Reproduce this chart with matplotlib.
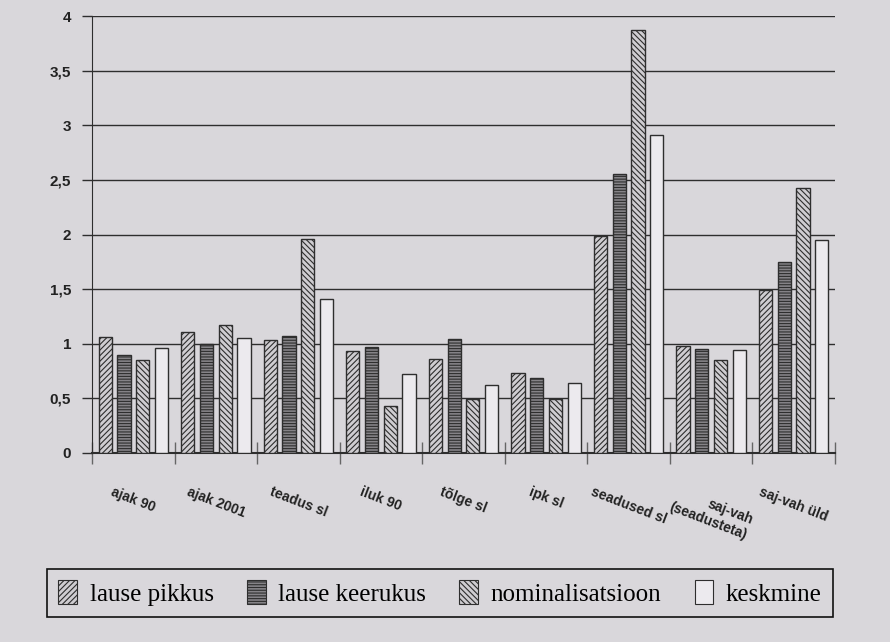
import numpy as np
import matplotlib
matplotlib.use("Agg")
import matplotlib.pyplot as plt
from matplotlib.patches import Patch

# andmed
kategooriad = ["ajak 90", "ajak 2001", "teadus sl", "iluk 90", "tõlge sl",
               "ipk sl", "seadused sl", "saj-vah\n(seadusteta)", "saj-vah üld"]
lause_pikkus = [1.06, 1.11, 1.03, 0.93, 0.86, 0.73, 1.99, 0.98, 1.49]
lause_keerukus = [0.90, 1.00, 1.07, 0.97, 1.04, 0.69, 2.55, 0.95, 1.75]
nominalisatsioon = [0.85, 1.17, 1.96, 0.43, 0.49, 0.49, 3.87, 0.85, 2.43]
keskmine = [0.96, 1.05, 1.41, 0.72, 0.62, 0.64, 2.91, 0.94, 1.95]
seeriad = ["lause pikkus", "lause keerukus", "nominalisatsioon", "keskmine"]
y_sildid = ["0", "0,5", "1", "1,5", "2", "2,5", "3", "3,5", "4"]

taust = "#d9d7db"
joon = "#2e2e2e"
plt.rcParams["hatch.linewidth"] = 0.8

stiilid = [
    dict(facecolor="#cfcdd1", hatch="//////"),
    dict(facecolor="#858387", hatch="------"),
    dict(facecolor="#cfcdd1", hatch="\\\\\\\\\\\\"),
    dict(facecolor="#eceaee", hatch=None),
]

fig = plt.figure(figsize=(8.9, 6.42), dpi=100, facecolor=taust)
ax = fig.add_axes([92 / 890, 1 - 453 / 642, (835 - 92) / 890, (453 - 16) / 642])
ax.set_facecolor(taust)

x = np.arange(len(kategooriad))
laius = 0.16
samm = 0.227
for i, vaartused in enumerate([lause_pikkus, lause_keerukus, nominalisatsioon, keskmine]):
    ax.bar(x + (i - 1.5) * samm, vaartused, width=laius, edgecolor=joon,
           linewidth=1.0, zorder=3, **stiilid[i])

ax.set_xlim(-0.5, len(kategooriad) - 0.5)
ax.set_ylim(0, 4)

# y-telg
ax.set_yticks(np.arange(0, 4.01, 0.5))
ax.set_yticklabels(y_sildid, fontfamily="Liberation Sans", fontweight="bold",
                   fontsize=11, color="#222222")
ax.tick_params(axis="y", direction="out", length=7, width=1, color=joon, pad=8)
ax.yaxis.grid(True, color=joon, linewidth=1.0, zorder=1)

# x-telg
ax.set_xticks(np.arange(-0.5, len(kategooriad)), labels=[])
ax.tick_params(axis="x", which="major", direction="inout", length=16,
               width=1, color="#666666")
ax.set_xticks(x, minor=True)
ax.set_xticklabels(kategooriad, minor=True, rotation=-21, ha="center", va="top",
                   fontfamily="Liberation Sans", fontweight="bold", fontsize=10,
                   color="#222222", multialignment="right")
ax.tick_params(axis="x", which="minor", length=0, pad=23)

for s in ["top", "right"]:
    ax.spines[s].set_visible(False)
ax.spines["left"].set_color(joon)
ax.spines["bottom"].set_color(joon)
ax.spines["bottom"].set_linewidth(1.5)
ax.set_axisbelow(True)

# legend
kasitsejad = [Patch(edgecolor=joon, linewidth=0.8, **st) for st in stiilid]
leg = fig.legend(kasitsejad, seeriad, loc="lower left", ncol=4,
                 bbox_to_anchor=(47 / 890, 1 - 617 / 642, (833 - 47) / 890, 50 / 642),
                 mode="expand", fancybox=False, framealpha=1, facecolor=taust,
                 edgecolor="#111111", borderaxespad=0, handlelength=0.75,
                 handleheight=1.1, handletextpad=0.5, borderpad=0.45,
                 prop={"family": "Liberation Serif", "size": 18})
leg.get_frame().set_linewidth(1.2)

fig.savefig("out.png", dpi=100, facecolor=taust)
